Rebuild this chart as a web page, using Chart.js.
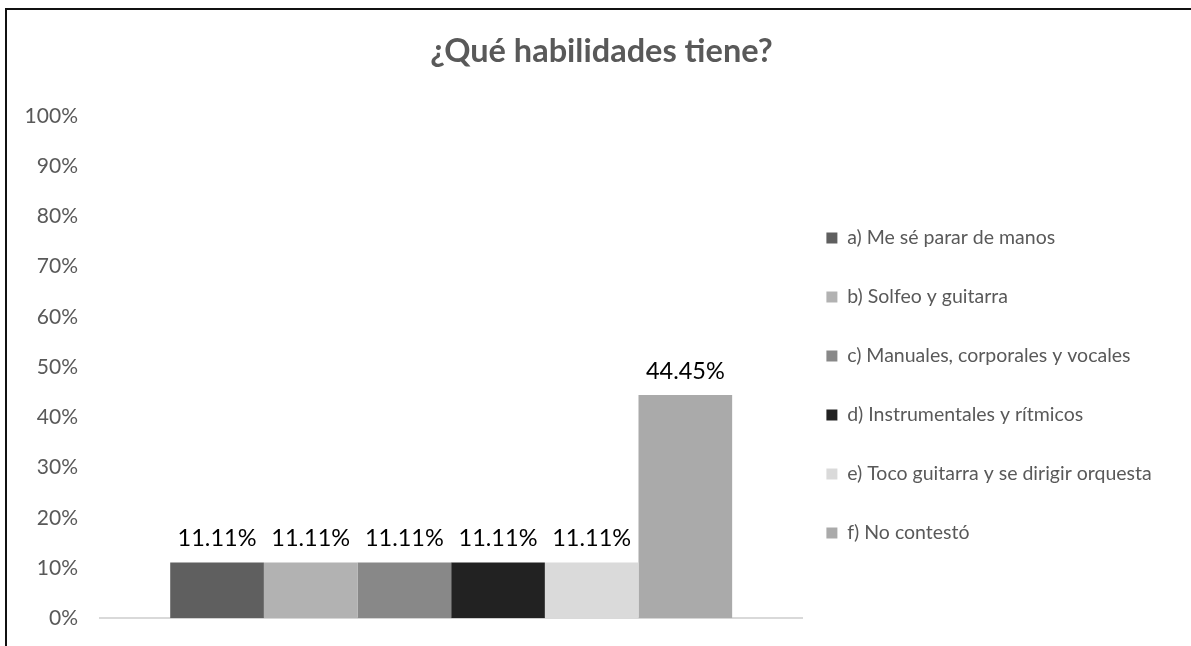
<!DOCTYPE html>
<html>
<head>
<meta charset="utf-8">
<title>¿Qué habilidades tiene?</title>
<script src="https://cdn.jsdelivr.net/npm/chart.js@4"></script>
<style>
  html, body { margin: 0; padding: 0; background: #fff; overflow: hidden; }
  #wrap { position: relative; width: 1191px; height: 646px; }
  #frame {
    position: absolute; left: 5px; top: 8px; width: 1200px; height: 700px;
    border: 2px solid #111; pointer-events: none;
  }
</style>
</head>
<body>
<div id="wrap">
  <canvas id="habilidadesChart" width="1191" height="646"></canvas>
  <div id="frame"></div>
</div>
<script>
// Chart data
const chartTitle = "¿Qué habilidades tiene?";
const categories = [""];
const seriesNames = [
  "a) Me sé parar de manos",
  "b) Solfeo y guitarra",
  "c) Manuales, corporales y vocales",
  "d) Instrumentales y rítmicos",
  "e) Toco guitarra y se dirigir orquesta",
  "f) No contestó"
];
const seriesValues = [11.11, 11.11, 11.11, 11.11, 11.11, 44.45];
const seriesColors = ["#5f5f5f", "#b2b2b2", "#888888", "#222222", "#dadada", "#aaaaaa"];
const yTicks = [0, 10, 20, 30, 40, 50, 60, 70, 80, 90, 100];

const textGray = "#595959";
const legendPadding = 39.5;

// Draw the value above each bar
const barValueLabels = {
  id: "barValueLabels",
  afterDatasetsDraw(chart) {
    const ctx = chart.ctx;
    ctx.save();
    ctx.font = "23.5px Lato";
    ctx.fillStyle = "#000";
    ctx.textAlign = "center";
    ctx.textBaseline = "middle";
    chart.data.datasets.forEach((ds, i) => {
      const meta = chart.getDatasetMeta(i);
      meta.data.forEach((bar, j) => {
        ctx.fillText(ds.data[j].toFixed(2) + "%", bar.x, bar.y - 24);
      });
    });
    ctx.restore();
  }
};

// Legend is wider than Chart.js allows for a side box: place it next to the plot area,
// and centre the title over the whole card
const layoutTweaks = {
  id: "layoutTweaks",
  afterLayout(chart) {
    const lg = chart.legend;
    if (lg) {
      lg.left = chart.chartArea.right + 24 - legendPadding;
      lg.right = chart.width;
      lg.width = lg.right - lg.left;
      lg.top += 70;
      lg.bottom += 70;
    }
    const tb = chart.titleBlock;
    if (tb) {
      tb.left = 12;
      tb.right = chart.width;
      tb.width = tb.right - tb.left;
    }
  }
};

document.addEventListener("DOMContentLoaded", () => {
  const ctx = document.getElementById("habilidadesChart").getContext("2d");

  const datasets = seriesNames.map((name, i) => ({
    label: name,
    data: [seriesValues[i]],
    backgroundColor: seriesColors[i],
    borderWidth: 0,
    categoryPercentage: 0.8,
    barPercentage: 1.0
  }));

  new Chart(ctx, {
    type: "bar",
    data: { labels: categories, datasets: datasets },
    options: {
      responsive: false,
      animation: false,
      layout: { padding: { top: 0, left: 2.6, right: 122, bottom: 15 } },
      plugins: {
        title: {
          display: true,
          text: chartTitle,
          color: textGray,
          font: { family: "Lato", size: 32.5, weight: "bold" },
          padding: { top: 32, bottom: 45 }
        },
        legend: {
          position: "right",
          labels: {
            color: textGray,
            font: { family: "Lato", size: 19.5 },
            boxWidth: 11,
            boxHeight: 11,
            padding: legendPadding
          }
        },
        tooltip: { enabled: false }
      },
      scales: {
        x: {
          ticks: { display: false },
          grid: { display: false, drawTicks: false },
          border: { color: "#d9d9d9", width: 2 }
        },
        y: {
          min: 0,
          max: 100,
          afterBuildTicks: axis => { axis.ticks = yTicks.map(v => ({ value: v })); },
          ticks: {
            color: textGray,
            font: { family: "Lato", size: 21, lineHeight: 0.55 },
            padding: 22,
            callback: v => v + "%"
          },
          grid: { display: false, drawTicks: false },
          border: { display: false }
        }
      }
    },
    plugins: [barValueLabels, layoutTweaks]
  });
});
</script>
</body>
</html>
